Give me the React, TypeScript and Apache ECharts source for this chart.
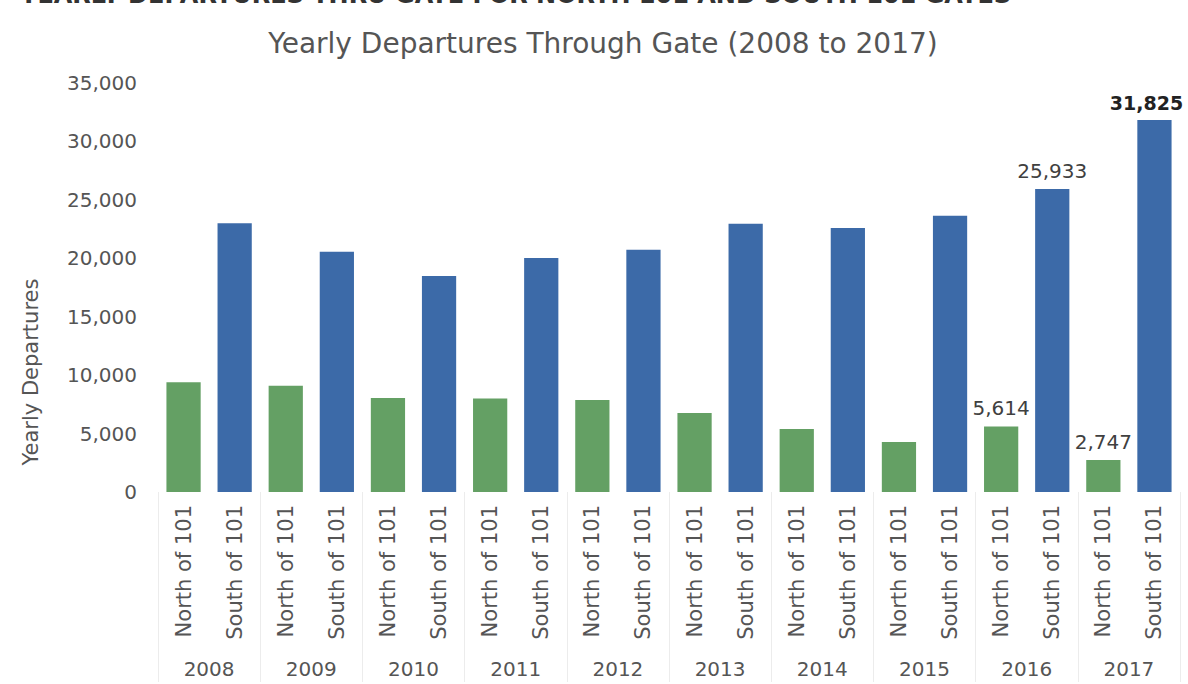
import React, { useEffect, useRef } from "react";
import * as echarts from "echarts";

const categories = [
  "North of 101", "South of 101", "North of 101", "South of 101", "North of 101", "South of 101",
  "North of 101", "South of 101", "North of 101", "South of 101", "North of 101", "South of 101",
  "North of 101", "South of 101", "North of 101", "South of 101", "North of 101", "South of 101",
  "North of 101", "South of 101",
];
const years = ["2008", "2009", "2010", "2011", "2012", "2013", "2014", "2015", "2016", "2017"];
const northValues = [9400, 9100, 8050, 8000, 7880, 6760, 5390, 4280, 5614, 2747];
const southValues = [23000, 20550, 18490, 20030, 20720, 22950, 22600, 23630, 25933, 31825];
const labelledIndices = [16, 17, 18, 19];
const yTicks = { min: 0, max: 35000, interval: 5000 };

const GREEN = "#64a064";
const BLUE = "#3c6aa8";
const TEXT = "#555555";
const FONT = "DejaVu Sans";

export default function App() {
  const ref = useRef<HTMLDivElement>(null);
  useEffect(() => {
    if (!ref.current) return;
    const chart = echarts.init(ref.current, null, { renderer: "svg" });
    const data = categories.map((c, i) => {
      const yi = Math.floor(i / 2);
      const isNorth = i % 2 === 0;
      const v = isNorth ? northValues[yi] : southValues[yi];
      const showLabel = labelledIndices.includes(i);
      const last = i === categories.length - 1;
      return {
        value: v,
        itemStyle: { color: isNorth ? GREEN : BLUE },
        label: {
          show: showLabel,
          position: "top",
          distance: 8,
          offset: last ? [-8, 0] : [0, 0],
          color: last ? "#222" : "#404040",
          fontWeight: last ? "bold" : "normal",
          fontFamily: FONT,
          fontSize: last ? 19 : 20,
          formatter: (p: any) => Number(p.value).toLocaleString("en-US"),
        },
      };
    });
    chart.setOption({
      animation: false,
      backgroundColor: "#ffffff",
      grid: { left: 158, right: 8, top: 83, bottom: 192, containLabel: false },
      graphic: [
        {
          type: "text",
          x: 603,
          y: 43,
          style: {
            text: "Yearly Departures Through Gate (2008 to 2017)",
            fill: TEXT,
            font: `28px "${FONT}"`,
            align: "center",
            verticalAlign: "middle",
          },
        },
        {
          type: "text",
          x: 20,
          y: -17,
          style: {
            text: "YEARLY DEPARTURES THRU GATE FOR NORTH 101 AND SOUTH 101 GATES",
            fill: "#333",
            font: `bold 24px "${FONT}"`,
          },
        },
        {
          type: "text",
          x: 31,
          y: 372,
          rotation: Math.PI / 2,
          style: {
            text: "Yearly Departures",
            fill: TEXT,
            font: `21px "${FONT}"`,
            align: "center",
            verticalAlign: "middle",
          },
        },
      ],
      xAxis: [
        {
          type: "category",
          data: categories,
          position: "bottom",
          axisLine: { show: false },
          axisTick: { show: false },
          axisLabel: {
            rotate: 90,
            interval: 0,
            margin: 13,
            color: TEXT,
            fontFamily: FONT,
            fontSize: 21,
          },
        },
        {
          type: "category",
          data: years,
          position: "bottom",
          axisLine: { show: false },
          axisTick: { show: true, length: 190, lineStyle: { color: "#ececec", width: 1 } },
          axisLabel: {
            interval: 0,
            margin: 167,
            color: TEXT,
            fontFamily: FONT,
            fontSize: 20,
          },
        },
      ],
      yAxis: {
        type: "value",
        min: yTicks.min,
        max: yTicks.max,
        interval: yTicks.interval,
        axisLine: { show: false },
        axisTick: { show: false },
        splitLine: { show: false },
        axisLabel: {
          margin: 21,
          color: TEXT,
          fontFamily: FONT,
          fontSize: 20,
          formatter: (v: number) => v.toLocaleString("en-US"),
        },
      },
      series: [
        {
          type: "bar",
          xAxisIndex: 0,
          data,
          barWidth: "67%",
        },
      ],
    });
    return () => chart.dispose();
  }, []);
  return <div ref={ref} style={{ width: 1188, height: 684, position: "fixed", left: 0, top: 0 }} />;
}
